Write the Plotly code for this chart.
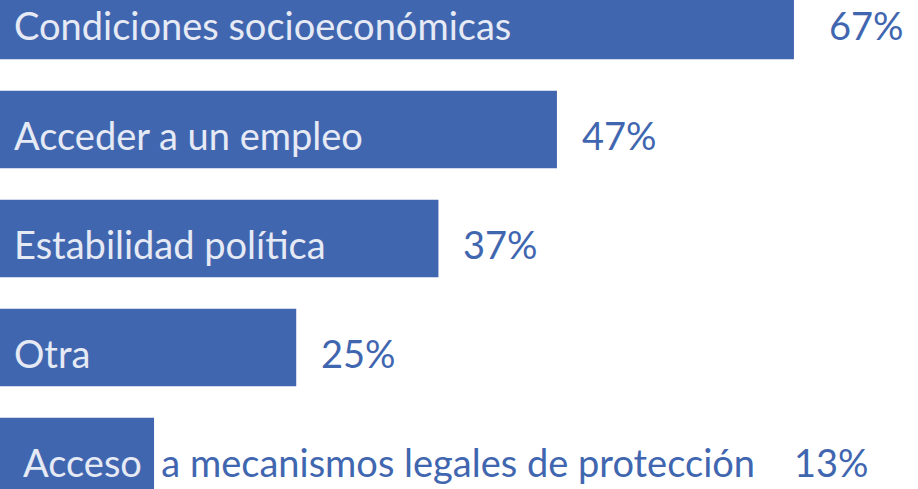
import plotly.graph_objects as go

categories = [
    "Condiciones socioeconómicas",
    "Acceder a un empleo",
    "Estabilidad política",
    "Otra",
    "Acceso a mecanismos legales de protección",
]
values = [67, 47, 37, 25, 13]

BAR_BLUE = "#4166B0"
LIGHT = "#E6EAF5"
FONT = "Lato, sans-serif"
SIZE = 38

fig = go.Figure(
    go.Bar(
        x=values,
        y=categories,
        orientation="h",
        marker=dict(color=BAR_BLUE, line=dict(width=0)),
        width=0.71,
        hoverinfo="skip",
    )
)

# the last label does not fit the bar: first word stays on the bar in light
# text, the rest runs on in blue, followed by the value
for i, (cat, val) in enumerate(zip(categories, values)):
    if i < len(categories) - 1:
        fig.add_annotation(
            x=0, y=cat, text=cat, xanchor="left", xshift=12, yshift=-5,
            showarrow=False,
            font=dict(family=FONT, size=SIZE, color=LIGHT),
        )
        fig.add_annotation(
            x=val, y=cat, text=f"{val}%", xanchor="left",
            xshift=33 if i == 0 else 23, yshift=-5,
            showarrow=False,
            font=dict(family=FONT, size=SIZE, color=BAR_BLUE),
        )
    else:
        first, rest = cat.split(" ", 1)
        fig.add_annotation(
            x=0, y=cat,
            text=f"<span style='color:{LIGHT}'>{first}</span>&nbsp; {rest}&nbsp;&nbsp;&nbsp; {val}%",
            xanchor="left", xshift=21, yshift=-5,
            showarrow=False,
            font=dict(family=FONT, size=SIZE, color=BAR_BLUE),
        )

fig.update_xaxes(visible=False, range=[0, 77.47], fixedrange=True)
fig.update_yaxes(
    visible=False,
    categoryorder="array",
    categoryarray=categories,
    range=[4.298, -0.188],
    fixedrange=True,
)
fig.update_layout(
    width=918,
    height=489,
    margin=dict(l=0, r=0, t=0, b=0),
    plot_bgcolor="white",
    paper_bgcolor="white",
    showlegend=False,
    bargap=0.29,
)

fig.write_html(
    "out.html",
    config={"displayModeBar": False},
    post_script="document.body.style.margin='0';",
)
